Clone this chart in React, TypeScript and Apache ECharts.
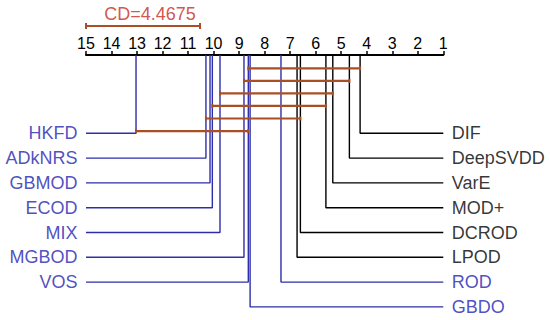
import React, { useEffect, useRef } from "react";
import * as echarts from "echarts";

// ---- data ----
const methods = ["DIF", "DeepSVDD", "VarE", "MOD+", "DCROD", "LPOD", "ROD", "GBDO", "VOS", "MGBOD", "MIX", "ECOD", "GBMOD", "ADkNRS", "HKFD"];
const avgRanks = [4.26, 4.68, 5.33, 5.6, 6.6, 6.73, 7.36, 8.57, 8.64, 8.81, 9.75, 10.05, 10.14, 10.3, 13.04];
const rightSide = ["DIF", "DeepSVDD", "VarE", "MOD+", "DCROD", "LPOD", "ROD", "GBDO"];
const leftSide = ["HKFD", "ADkNRS", "GBMOD", "ECOD", "MIX", "MGBOD", "VOS"];
const cliques: [string, string][] = [
  ["VOS", "DIF"],
  ["MGBOD", "DeepSVDD"],
  ["MIX", "VarE"],
  ["ECOD", "MOD+"],
  ["ADkNRS", "DCROD"],
  ["HKFD", "VOS"],
];
const cdValue = 4.4675;
const rankMin = 1;
const rankMax = 15;

// ---- style / layout ----
const BLUE = "#2222b0";
const BLUE_LINE = "#2e2eaa";
const BLACK = "#000000";
const BROWN = "#a84f26";
const RED = "#c8281e";
const blueMethods = new Set(["HKFD", "ADkNRS", "GBMOD", "ECOD", "MIX", "MGBOD", "VOS", "ROD", "GBDO"]);
const FONT = "Liberation Sans, Arial, Helvetica, sans-serif";
const ROW0 = 78.3;
const ROW_STEP = 24.8;
const CLIQUE0 = 13.3;
const CLIQUE_STEP = 12.55;

const rankOf = (m: string) => avgRanks[methods.indexOf(m)];

export default function App() {
  const ref = useRef<HTMLDivElement>(null);
  useEffect(() => {
    if (!ref.current) return;
    const chart = echarts.init(ref.current, undefined, { renderer: "svg" });
    const series: any[] = [];

    const addMethod = (m: string, i: number, side: "left" | "right") => {
      const r = rankOf(m);
      const y = ROW0 + ROW_STEP * i;
      const edge = side === "left" ? rankMax : rankMin;
      const isBlue = blueMethods.has(m);
      series.push({
        type: "line",
        xAxisIndex: 0,
        yAxisIndex: 0,
        data: [[edge, y], [r, y], [r, 0]],
        symbol: "none",
        clip: false,
        lineStyle: { color: isBlue ? BLUE_LINE : BLACK, width: 1.4 },
        z: 2,
      });
      series.push({
        type: "scatter",
        xAxisIndex: 0,
        yAxisIndex: 0,
        data: [[edge, y]],
        symbolSize: 1,
        itemStyle: { color: "transparent" },
        label: {
          show: true,
          position: side === "left" ? "left" : "right",
          distance: 8,
          formatter: m,
          color: isBlue ? BLUE : BLACK,
          fontSize: 18,
          fontFamily: FONT,
        },
        z: 3,
      });
    };
    leftSide.forEach((m, i) => addMethod(m, i, "left"));
    rightSide.forEach((m, i) => addMethod(m, i, "right"));

    cliques.forEach(([a, b], j) => {
      const y = CLIQUE0 + CLIQUE_STEP * j;
      series.push({
        type: "line",
        xAxisIndex: 0,
        yAxisIndex: 0,
        data: [[rankOf(a), y], [rankOf(b), y]],
        symbol: "rect",
        symbolSize: [2, 4],
        itemStyle: { color: BROWN },
        clip: false,
        lineStyle: { color: BROWN, width: 2.2 },
        z: 5,
      });
    });

    // CD bar
    series.push({
      type: "line",
      xAxisIndex: 1,
      yAxisIndex: 1,
      data: [[rankMax, 10], [rankMax - cdValue, 10]],
      symbol: "rect",
      symbolSize: [2, 6],
      itemStyle: { color: BROWN },
      clip: false,
      lineStyle: { color: BROWN, width: 2 },
    });
    series.push({
      type: "scatter",
      xAxisIndex: 1,
      yAxisIndex: 1,
      data: [[rankMax - cdValue / 2, 10]],
      symbolSize: 1,
      itemStyle: { color: "transparent" },
      label: {
        show: true,
        position: "top",
        distance: 3,
        offset: [7, 0],
        formatter: "CD=" + cdValue,
        color: RED,
        fontSize: 18,
        fontFamily: FONT,
      },
    });

    chart.setOption({
      animation: false,
      backgroundColor: "#ffffff",
      grid: [
        { left: 86, width: 357.3, top: 55, height: 252 },
        { left: 86, width: 357.3, top: 16, height: 20 },
      ],
      xAxis: [
        {
          type: "value",
          gridIndex: 0,
          position: "top",
          inverse: true,
          min: rankMin,
          max: rankMax,
          interval: 1,
          axisLine: { show: true, onZero: false, lineStyle: { color: "#000", width: 2 } },
          axisTick: { show: true, length: 4, lineStyle: { color: "#000", width: 1.5 } },
          axisLabel: { margin: 4, fontSize: 16, color: "#000", fontFamily: FONT },
          splitLine: { show: false },
        },
        {
          type: "value",
          gridIndex: 1,
          show: false,
          inverse: true,
          min: rankMin,
          max: rankMax,
        },
      ],
      yAxis: [
        { type: "value", gridIndex: 0, show: false, inverse: true, min: 0, max: 252 },
        { type: "value", gridIndex: 1, show: false, inverse: true, min: 0, max: 20 },
      ],
      series,
    });
    return () => chart.dispose();
  }, []);
  return <div ref={ref} style={{ width: 550, height: 320, position: "absolute", left: 0, top: 0 }} />;
}
